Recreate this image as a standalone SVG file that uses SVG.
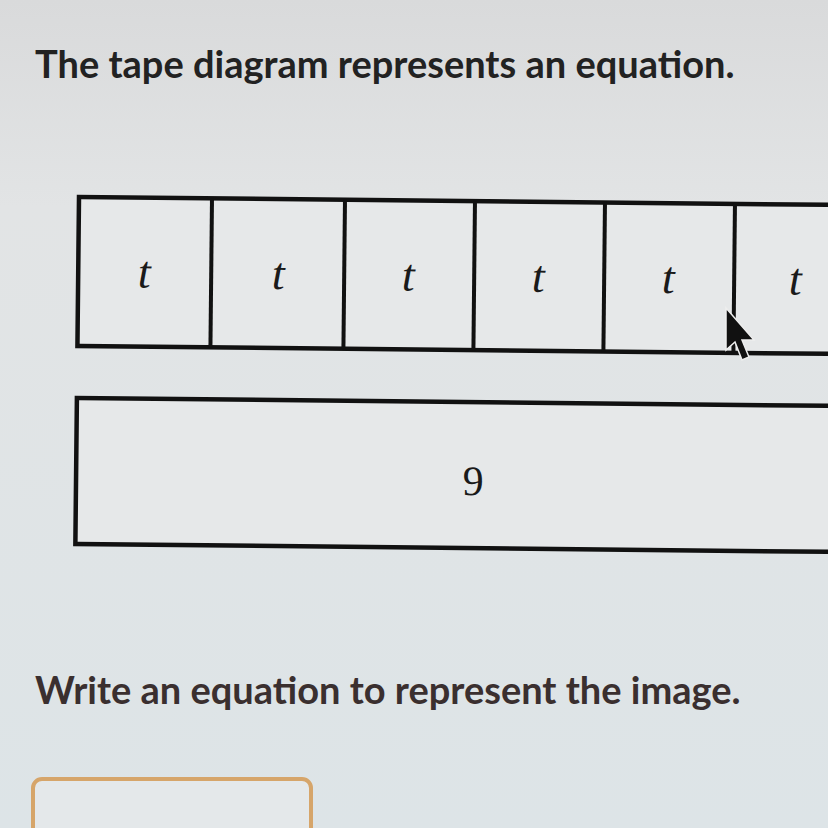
<svg xmlns="http://www.w3.org/2000/svg" width="828" height="828" viewBox="0 0 828 828">
  <defs>
    <linearGradient id="bg" x1="0" y1="0" x2="0" y2="1">
      <stop offset="0" stop-color="#d9dadb"/>
      <stop offset="0.25" stop-color="#e2e4e5"/>
      <stop offset="1" stop-color="#dde4e7"/>
    </linearGradient>
    <style>
      .tape { fill: #e6e8e9; stroke: #111; stroke-width: 4.5; }
      .div { stroke: #111; stroke-width: 4; }
      .lbl { font-family: "Liberation Serif", "DejaVu Serif", serif; font-style: italic; font-size: 46px; fill: #1a1a1a; text-anchor: middle; }
      .num { font-family: "Liberation Serif", "DejaVu Serif", serif; font-size: 42px; fill: #1a1a1a; text-anchor: middle; }
      .q { font-family: Lato, "Open Sans", sans-serif; font-weight: bold; }
    </style>
  </defs>
  <rect width="828" height="828" fill="url(#bg)"/>
  <text id="title" class="q" x="35" y="78" font-size="38" fill="#222">The tape diagram represents an equation.</text>

  <g transform="rotate(0.6 79 197)">
    <g id="tape-t">
      <rect class="tape" x="79" y="197" width="800" height="149"/>
      <line class="div" x1="212" y1="197" x2="212" y2="346"/>
      <line class="div" x1="345" y1="197" x2="345" y2="346"/>
      <line class="div" x1="475" y1="197" x2="475" y2="346"/>
      <line class="div" x1="605" y1="197" x2="605" y2="346"/>
      <line class="div" x1="735" y1="197" x2="735" y2="346"/>
      <text class="lbl" x="145" y="287">t</text>
      <text class="lbl" x="279" y="287">t</text>
      <text class="lbl" x="409" y="287">t</text>
      <text class="lbl" x="539" y="287">t</text>
      <text class="lbl" x="669" y="287">t</text>
      <text class="lbl" x="796" y="287">t</text>
    </g>
    <g id="tape-9">
      <rect class="tape" x="79" y="398" width="800" height="146"/>
      <text class="num" x="476" y="491">9</text>
    </g>
  </g>

  <g id="cursor">
    <polygon points="726,308 726,350 735,342 742,360 749,357 742,340 754,340" fill="#111" stroke="#eee" stroke-width="1.5"/>
  </g>

  <text id="prompt" class="q" x="35" y="704" font-size="38" fill="#3a2f2f">Write an equation to represent the image.</text>

  <g id="answer-box">
    <rect x="33" y="779" width="278" height="80" rx="9" fill="#e4e8ea" stroke="#d6a56a" stroke-width="4"/>
  </g>
</svg>
